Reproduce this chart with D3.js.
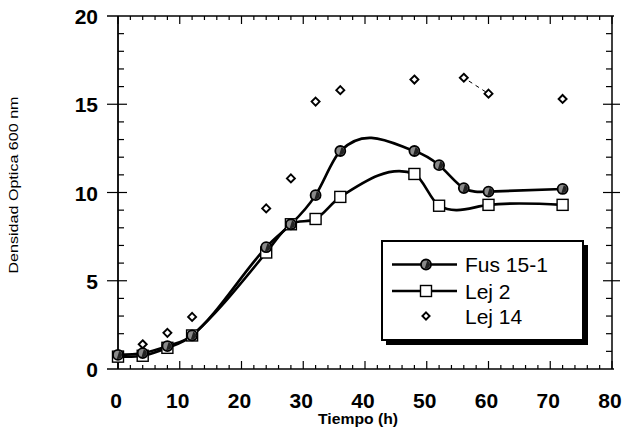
<!DOCTYPE html>
<html>
<head>
<meta charset="utf-8">
<script src="https://cdn.jsdelivr.net/npm/d3@7"></script>
<style>
  html, body { margin: 0; padding: 0; background: #fff; }
  svg { display: block; font-family: "Liberation Sans", Arial, sans-serif; }
</style>
</head>
<body>
<svg id="chart" width="623" height="431"></svg>
<script>
// data
const fusTime = [0, 4, 8, 12, 24, 28, 32, 36, 48, 52, 56, 60, 72];
const fusOD   = [0.8, 0.9, 1.3, 1.9, 6.9, 8.2, 9.85, 12.35, 12.35, 11.55, 10.25, 10.05, 10.2];

const lej2Time = [0, 4, 8, 12, 24, 28, 32, 36, 48, 52, 60, 72];
const lej2OD   = [0.7, 0.75, 1.2, 1.9, 6.6, 8.2, 8.5, 9.75, 11.05, 9.25, 9.3, 9.3];

const lej14Time = [0, 4, 8, 12, 24, 28, 32, 36, 48, 56, 60, 72];
const lej14OD   = [0.6, 1.4, 2.05, 2.95, 9.1, 10.8, 15.15, 15.8, 16.4, 16.5, 15.6, 15.3];

const xTicks = [0, 10, 20, 30, 40, 50, 60, 70, 80];
const yTicks = [0, 5, 10, 15, 20];
const legendNames = ["Fus 15-1", "Lej 2", "Lej 14"];

// spline taken along x: slopes are a mix of natural-spline and catmull-rom slopes
function SplineX(context, w) { this._context = context; this._w = w; }
SplineX.prototype = {
  areaStart() { this._line = 0; },
  areaEnd() { this._line = NaN; },
  lineStart() { this._x = []; this._y = []; },
  lineEnd() {
    const xs = this._x, ys = this._y, n = xs.length - 1, ctx = this._context;
    if (n < 0) return;
    ctx.moveTo(xs[0], ys[0]);
    if (n === 0) return;
    const h = d3.range(n).map(i => xs[i + 1] - xs[i]);
    const d = d3.range(n).map(i => (ys[i + 1] - ys[i]) / h[i]);
    // natural spline second derivatives
    const M = new Array(n + 1).fill(0);
    if (n > 1) {
      const a = [], b = [], c = [], r = [];
      for (let i = 1; i < n; i++) {
        a.push(h[i - 1]); b.push(2 * (h[i - 1] + h[i])); c.push(h[i]);
        r.push(6 * (d[i] - d[i - 1]));
      }
      const k = b.length;
      for (let i = 1; i < k; i++) {
        const f = a[i] / b[i - 1];
        b[i] -= f * c[i - 1]; r[i] -= f * r[i - 1];
      }
      const sol = new Array(k);
      sol[k - 1] = r[k - 1] / b[k - 1];
      for (let i = k - 2; i >= 0; i--) sol[i] = (r[i] - c[i] * sol[i + 1]) / b[i];
      for (let i = 1; i < n; i++) M[i] = sol[i - 1];
    }
    const mN = d3.range(n + 1).map(i => i < n
      ? d[i] - h[i] * (2 * M[i] + M[i + 1]) / 6
      : d[n - 1] + h[n - 1] * (M[n - 1] + 2 * M[n]) / 6);
    const mC = new Array(n + 1);
    for (let i = 1; i < n; i++) mC[i] = (ys[i + 1] - ys[i - 1]) / (xs[i + 1] - xs[i - 1]);
    mC[0] = n > 1 ? (3 * d[0] - mC[1]) / 2 : d[0];
    mC[n] = n > 1 ? (3 * d[n - 1] - mC[n - 1]) / 2 : d[n - 1];
    const w = this._w;
    const m = mN.map((v, i) => w * v + (1 - w) * mC[i]);
    for (let i = 0; i < n; i++) {
      ctx.bezierCurveTo(xs[i] + h[i] / 3, ys[i] + m[i] * h[i] / 3,
                        xs[i + 1] - h[i] / 3, ys[i + 1] - m[i + 1] * h[i] / 3,
                        xs[i + 1], ys[i + 1]);
    }
  },
  point(px, py) { this._x.push(+px); this._y.push(+py); }
};
const curveSplineX = w => ctx => new SplineX(ctx, w);

const svg = d3.select("#chart");
const x = d3.scaleLinear().domain([0, 80]).range([118, 612]);
const y = d3.scaleLinear().domain([0, 20]).range([369, 16]);

const toPts = (t, v) => t.map((d, i) => ({ t: d, v: v[i] }));
const fus = toPts(fusTime, fusOD);
const lej2 = toPts(lej2Time, lej2OD);
const lej14 = toPts(lej14Time, lej14OD);

// frame + ticks (all pointing inward, majors crossing on the y axes)
const frame = svg.append("g").attr("stroke", "#000").attr("fill", "none");
frame.append("line").attr("x1", 107).attr("x2", 614).attr("y1", y(0)).attr("y2", y(0)).attr("stroke-width", 1.5);
frame.append("line").attr("x1", 107).attr("x2", 614).attr("y1", y(20)).attr("y2", y(20)).attr("stroke-width", 1.5);
frame.append("line").attr("x1", x(0)).attr("x2", x(0)).attr("y1", y(20)).attr("y2", y(0)).attr("stroke-width", 1.8);
frame.append("line").attr("x1", x(80)).attr("x2", x(80)).attr("y1", y(20)).attr("y2", y(0)).attr("stroke-width", 1.5);

const xMinor = d3.range(0, 81, 2);
const yMinor = d3.range(0, 21, 1);

xMinor.forEach(t => {
  const major = t % 10 === 0;
  const len = major ? 8 : 4;
  frame.append("line").attr("x1", x(t)).attr("x2", x(t))
    .attr("y1", y(0)).attr("y2", y(0) - len).attr("stroke-width", 1.2);
  frame.append("line").attr("x1", x(t)).attr("x2", x(t))
    .attr("y1", y(20)).attr("y2", y(20) + len).attr("stroke-width", 1.2);
});
yMinor.forEach(v => {
  const major = v % 5 === 0;
  if (v === 0 || v === 20) return;
  const inLen = major ? 9 : 6;
  const outLen = major ? 11 : 0;
  frame.append("line").attr("x1", x(0) - outLen).attr("x2", x(0) + inLen)
    .attr("y1", y(v)).attr("y2", y(v)).attr("stroke-width", 1.2);
  frame.append("line").attr("x1", x(80) - inLen).attr("x2", x(80) + (major ? 8 : 0))
    .attr("y1", y(v)).attr("y2", y(v)).attr("stroke-width", 1.2);
});

// tick labels
svg.append("g").selectAll("text").data(xTicks).join("text")
  .attr("x", d => x(d) - 2).attr("y", 408)
  .attr("text-anchor", "middle")
  .style("font-size", "21px").style("font-weight", "bold")
  .text(d => d);
svg.append("g").selectAll("text").data(yTicks).join("text")
  .attr("x", 98).attr("y", d => y(d) + 8)
  .attr("text-anchor", "end")
  .style("font-size", "21px").style("font-weight", "bold")
  .text(d => d);

// axis titles
svg.append("text")
  .attr("x", 358).attr("y", 424).attr("text-anchor", "middle")
  .style("font-size", "14px").style("font-weight", "bold")
  .attr("textLength", 80).attr("lengthAdjust", "spacingAndGlyphs")
  .text("Tiempo (h)");
svg.append("text")
  .attr("transform", "translate(18,185) rotate(-90)")
  .attr("text-anchor", "middle")
  .style("font-size", "13px")
  .attr("textLength", 177).attr("lengthAdjust", "spacingAndGlyphs")
  .text("Densidad Optica 600 nm");

// curves
const lineFus = d3.line().x(d => x(d.t)).y(d => y(d.v)).curve(curveSplineX(0.55));
const lineLej2 = d3.line().x(d => x(d.t)).y(d => y(d.v)).curve(curveSplineX(0.3));
svg.append("path").datum(lej2).attr("d", lineLej2)
  .attr("fill", "none").attr("stroke", "#000").attr("stroke-width", 2.6);
svg.append("path").datum(fus).attr("d", lineFus)
  .attr("fill", "none").attr("stroke", "#000").attr("stroke-width", 2.6);

// faint dashed remnant for Lej 14 between 56 h and 60 h
const dashSeg = lej14.filter(d => d.t >= 56 && d.t <= 60);
svg.append("path").datum(dashSeg)
  .attr("d", d3.line().x(d => x(d.t)).y(d => y(d.v)))
  .attr("fill", "none").attr("stroke", "#000").attr("stroke-width", 1)
  .attr("stroke-dasharray", "4,4").attr("stroke-dashoffset", -6);

// markers
function circleMark(sel, r) {
  sel.append("circle").attr("r", r).attr("fill", "#8a8a8a").attr("stroke", "#000").attr("stroke-width", 1.8);
  sel.append("path").attr("d", d3.arc()({ innerRadius: 0, outerRadius: r - 1, startAngle: 0.3, endAngle: Math.PI + 0.3 }))
    .attr("fill", "#222");
}
function squareMark(sel, s) {
  sel.append("rect").attr("x", -s / 2).attr("y", -s / 2).attr("width", s).attr("height", s)
    .attr("fill", "#fff").attr("stroke", "#000").attr("stroke-width", 1.4);
}
function diamondMark(sel, s) {
  sel.append("path").attr("d", `M0,${-s}L${s},0L0,${s}L${-s},0Z`)
    .attr("fill", "#fff").attr("stroke", "#000").attr("stroke-width", 1.9);
}

svg.append("g").selectAll("g").data(lej14).join("g")
  .attr("transform", d => `translate(${x(d.t)},${y(d.v)})`)
  .call(diamondMark, 4);
svg.append("g").selectAll("g").data(lej2).join("g")
  .attr("transform", d => `translate(${x(d.t)},${y(d.v)})`)
  .call(squareMark, 11);
svg.append("g").selectAll("g").data(fus).join("g")
  .attr("transform", d => `translate(${x(d.t)},${y(d.v)})`)
  .each(function () { circleMark(d3.select(this), 5); });

// legend
const lg = svg.append("g");
lg.append("rect").attr("x", 386).attr("y", 245).attr("width", 202).attr("height", 100).attr("fill", "#000");
lg.append("rect").attr("x", 382).attr("y", 241).attr("width", 201).attr("height", 99)
  .attr("fill", "#fff").attr("stroke", "#000").attr("stroke-width", 2);
const rowsY = [264.5, 291, 316];
legendNames.forEach((name, i) => {
  const ry = rowsY[i];
  if (i < 2) {
    lg.append("line").attr("x1", 392).attr("x2", 457).attr("y1", ry).attr("y2", ry)
      .attr("stroke", "#000").attr("stroke-width", 2.4);
  }
  const m = lg.append("g").attr("transform", `translate(426,${ry})`);
  if (i === 0) circleMark(m, 5);
  if (i === 1) squareMark(m, 11);
  if (i === 2) diamondMark(m, 3.6);
  lg.append("text").attr("x", 465).attr("y", ry + 7.5)
    .style("font-size", "21px").text(name);
});
</script>
</body>
</html>
